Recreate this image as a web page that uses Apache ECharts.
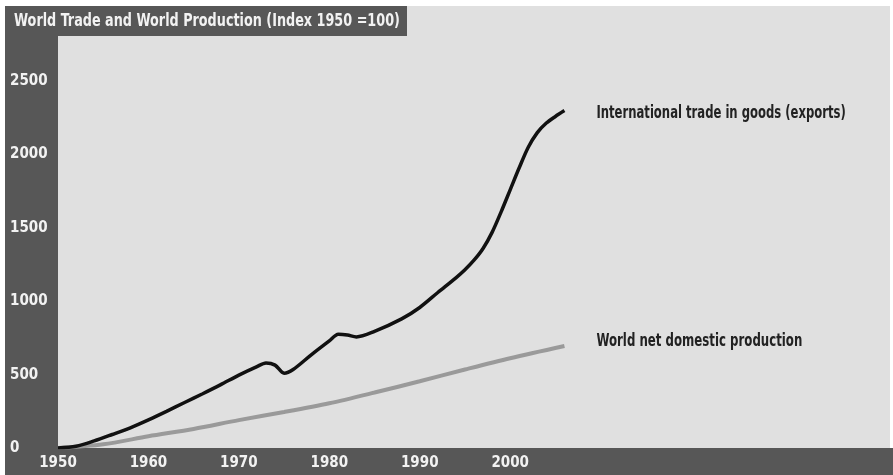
<!DOCTYPE html>
<html>
<head>
<meta charset="utf-8">
<script src="https://cdn.jsdelivr.net/npm/echarts@6/dist/echarts.min.js"></script>
<style>html,body{margin:0;padding:0;background:#fff}#c{width:893px;height:475px}</style>
</head>
<body>
<div id="c"></div>
<script>
var titleText = 'World Trade and World Production (Index 1950 =100)';
var exportName = 'International trade in goods (exports)';
var productionName = 'World net domestic production';
var exportYears = [1950,1952,1954,1956,1958,1960,1962,1964,1966,1968,1970,1972,1973,1974,1975,1976,1978,1980,1981,1982,1983,1985,1988,1990,1992,1994,1995,1996,1997,1998,1999,2000,2001,2002,2003,2004,2005,2006];
var exportValues = [0,12,48,92,138,192,250,310,370,432,497,555,580,565,510,535,635,730,775,770,757,795,880,958,1060,1160,1215,1280,1360,1470,1610,1760,1910,2050,2150,2215,2260,2300];
var productionYears = [1950,1955,1960,1965,1970,1975,1980,1985,1990,1995,2000,2006];
var productionValues = [0,25,80,130,190,245,305,378,455,535,612,695];
var xTickLast = 2000;
var yTickLast = 2500;

var FONT = "'Liberation Sans Narrow','DejaVu Sans Condensed','Roboto Condensed',sans-serif";
function pairs(xs, ys){ return xs.map(function(x,i){ return [x, ys[i]]; }); }

var chart = echarts.init(document.getElementById('c'), null, {renderer:'canvas'});
var baseGraphics = [
  {type: 'rect', shape: {x: 0, y: 0, width: 893, height: 6}, style: {fill: '#fff'}, z: 100},
  {type: 'rect', shape: {x: 0, y: 0, width: 5, height: 475}, style: {fill: '#fff'}, z: 100},
  {type: 'rect', shape: {x: 890, y: 0, width: 3, height: 448}, style: {fill: '#fff'}, z: 100},
  {type: 'rect', shape: {x: 5, y: 6, width: 402, height: 30}, style: {fill: '#575757'}, z: 100},
  {type: 'text', x: 14, y: 21, scaleX: 0.79, z: 101, style: {text: titleText, fill: '#f2f2f2', font: 'bold 18px ' + FONT, verticalAlign: 'middle'}}
];
chart.setOption({
  backgroundColor: '#575757',
  animation: false,
  grid: {left: 58, right: 3, top: 6, bottom: 27, show: true, backgroundColor: '#e0e0e0', borderWidth: 0},
  xAxis: {
    type: 'value', min: 1950, max: 2042, interval: 10,
    axisLine: {show: false}, axisTick: {show: false}, splitLine: {show: false},
    axisLabel: {color: '#f2f2f2', fontFamily: FONT, fontWeight: 'bold', fontSize: 15, margin: 8,
      formatter: function(v){ return v <= xTickLast ? String(v) : ''; }}
  },
  yAxis: {
    type: 'value', min: 0, max: 3013, interval: 500,
    axisLine: {show: false}, axisTick: {show: false}, splitLine: {show: false},
    axisLabel: {color: '#f2f2f2', fontFamily: FONT, fontWeight: 'bold', fontSize: 15, margin: 48, align: 'left',
      formatter: function(v){ return v <= yTickLast ? String(v) : ''; }}
  },
  series: [
    {
      name: productionName, type: 'line', data: pairs(productionYears, productionValues),
      smooth: 0.3, symbol: 'none', lineStyle: {color: '#9a9a9a', width: 4}
    },
    {
      name: exportName, type: 'line', data: pairs(exportYears, exportValues),
      smooth: 0.3, symbol: 'none', lineStyle: {color: '#111', width: 3.5}
    }
  ],
  graphic: baseGraphics
});

// series name labels placed next to each line end, positioned through the chart's own scales
var endE = chart.convertToPixel({seriesIndex: 1}, [exportYears[exportYears.length-1], exportValues[exportValues.length-1]]);
var endP = chart.convertToPixel({seriesIndex: 0}, [productionYears[productionYears.length-1], productionValues[productionValues.length-1]]);
chart.setOption({
  graphic: baseGraphics.concat([
    {type: 'text', x: endE[0] + 32, y: endE[1] + 3, scaleX: 0.76, z: 101, style: {text: exportName, fill: '#222', font: 'bold 17px ' + FONT, verticalAlign: 'middle'}},
    {type: 'text', x: endP[0] + 32, y: endP[1] - 4, scaleX: 0.77, z: 101, style: {text: productionName, fill: '#222', font: 'bold 17px ' + FONT, verticalAlign: 'middle'}}
  ])
});
</script>
</body>
</html>
